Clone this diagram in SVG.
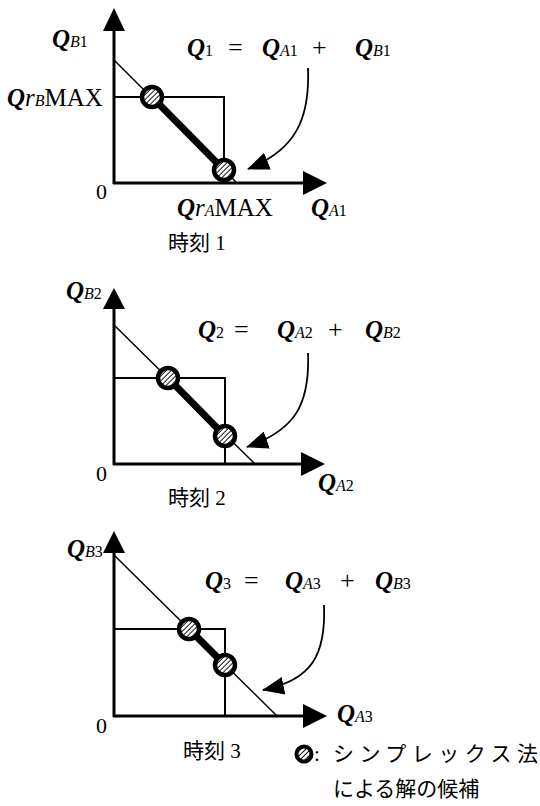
<svg xmlns="http://www.w3.org/2000/svg" width="540" height="806" viewBox="0 0 540 806">
<style>
.axis{stroke:#000;stroke-width:3;fill:none}
.rect{stroke:#000;stroke-width:2;fill:none}
.diag{stroke:#000;stroke-width:1.5;fill:none}
.thick{stroke:#000;stroke-width:7;fill:none}
.curve{stroke:#000;stroke-width:1.8;fill:none}
.head{fill:#000}
.q{font-family:"Liberation Serif",serif;font-style:italic;font-weight:bold;font-size:25px;fill:#000}
.sub{font-size:16px;font-weight:normal}
.r{font-weight:normal}
.n{font-style:normal}
.mx{font-style:normal;font-weight:normal;font-size:25px}
.up{font-family:"Liberation Serif",serif;font-style:normal;font-size:22px;fill:#000}
.op{font-family:"Liberation Serif",serif;font-size:26px;fill:#000}
.jp{font-family:"Liberation Serif","Noto Sans CJK JP",serif;font-size:21px;fill:#000}
</style>
<defs>
<pattern id="hatch" patternUnits="userSpaceOnUse" width="3.5" height="3.5" patternTransform="rotate(45)">
<rect width="3.5" height="3.5" fill="#fff"/>
<line x1="0" y1="0" x2="0" y2="3.5" stroke="#000" stroke-width="1.8"/>
</pattern>
<g id="node"><circle r="10" fill="url(#hatch)" stroke="#000" stroke-width="4.5"/></g>
<marker id="arr" markerUnits="userSpaceOnUse" markerWidth="22" markerHeight="18" refX="21" refY="9" orient="auto" viewBox="0 0 22 18">
<path d="M0,0 L22,9 L0,18 z" fill="#000"/>
</marker>
</defs>

<g id="panel1">
<line class="diag" x1="114" y1="60" x2="237" y2="183"/>
<polyline class="rect" points="114,97 224,97 224,183"/>
<line class="thick" x1="152" y1="97" x2="224" y2="170"/>
<line class="axis" x1="114" y1="184" x2="114" y2="28"/>
<polygon class="head" points="103,31 125,31 114,8"/>
<line class="axis" x1="113" y1="183" x2="306" y2="183"/>
<polygon class="head" points="303,171 303,195 327,183"/>
<use href="#node" x="152" y="97"/>
<use href="#node" x="224" y="170"/>
<path class="curve" d="M308,68 C310,120 295,150 248,169" marker-end="url(#arr)"/>
<text class="q" x="52" y="47">Q<tspan class="sub">B</tspan><tspan class="sub n">1</tspan></text>
<text class="q" x="7" y="106">Q<tspan class="r">r</tspan><tspan class="sub">B</tspan><tspan class="mx">MAX</tspan></text>
<text class="up" x="96" y="199">0</text>
<text class="q" x="177" y="216">Q<tspan class="r">r</tspan><tspan class="sub">A</tspan><tspan class="mx">MAX</tspan></text>
<text class="q" x="311" y="216">Q<tspan class="sub">A</tspan><tspan class="sub n">1</tspan></text>
<text class="q" x="187" y="56">Q<tspan class="sub n">1</tspan></text>
<text class="op" x="228" y="56">=</text>
<text class="q" x="262" y="56">Q<tspan class="sub">A</tspan><tspan class="sub n">1</tspan></text>
<text class="op" x="312" y="56">+</text>
<text class="q" x="355" y="56">Q<tspan class="sub">B</tspan><tspan class="sub n">1</tspan></text>
<text class="jp" x="168" y="250">時刻 1</text>
</g>

<g id="panel2">
<line class="diag" x1="114" y1="325" x2="255" y2="464"/>
<polyline class="rect" points="114,378 225,378 225,464"/>
<line class="thick" x1="168" y1="378" x2="225" y2="436"/>
<line class="axis" x1="114" y1="465" x2="114" y2="306"/>
<polygon class="head" points="103,309 125,309 114,288"/>
<line class="axis" x1="113" y1="464" x2="304" y2="464"/>
<polygon class="head" points="301,452 301,476 325,464"/>
<use href="#node" x="168" y="378"/>
<use href="#node" x="225" y="436"/>
<path class="curve" d="M308,353 C310,405 295,430 247,447" marker-end="url(#arr)"/>
<text class="q" x="66" y="299">Q<tspan class="sub">B</tspan><tspan class="sub n">2</tspan></text>
<text class="up" x="96" y="481">0</text>
<text class="q" x="318" y="491">Q<tspan class="sub">A</tspan><tspan class="sub n">2</tspan></text>
<text class="q" x="198" y="338">Q<tspan class="sub n">2</tspan></text>
<text class="op" x="234" y="338">=</text>
<text class="q" x="277" y="338">Q<tspan class="sub">A</tspan><tspan class="sub n">2</tspan></text>
<text class="op" x="328" y="338">+</text>
<text class="q" x="365" y="338">Q<tspan class="sub">B</tspan><tspan class="sub n">2</tspan></text>
<text class="jp" x="168" y="505">時刻 2</text>
</g>

<g id="panel3">
<line class="diag" x1="114" y1="555" x2="277" y2="716"/>
<polyline class="rect" points="114,629 225,629 225,716"/>
<line class="thick" x1="189" y1="629" x2="225" y2="665"/>
<line class="axis" x1="114" y1="717" x2="114" y2="550"/>
<polygon class="head" points="103,553 125,553 114,531"/>
<line class="axis" x1="113" y1="716" x2="306" y2="716"/>
<polygon class="head" points="303,704 303,728 327,716"/>
<use href="#node" x="189" y="629"/>
<use href="#node" x="225" y="665"/>
<path class="curve" d="M324,605 C326,655 312,680 263,690" marker-end="url(#arr)"/>
<text class="q" x="67" y="557">Q<tspan class="sub">B</tspan><tspan class="sub n">3</tspan></text>
<text class="up" x="96" y="733">0</text>
<text class="q" x="337" y="722">Q<tspan class="sub">A</tspan><tspan class="sub n">3</tspan></text>
<text class="q" x="205" y="589">Q<tspan class="sub n">3</tspan></text>
<text class="op" x="244" y="589">=</text>
<text class="q" x="285" y="589">Q<tspan class="sub">A</tspan><tspan class="sub n">3</tspan></text>
<text class="op" x="340" y="589">+</text>
<text class="q" x="375" y="589">Q<tspan class="sub">B</tspan><tspan class="sub n">3</tspan></text>
<text class="jp" x="183" y="758">時刻 3</text>
</g>

<g id="legend">
<circle cx="304" cy="754" r="7.5" fill="url(#hatch)" stroke="#000" stroke-width="4"/>
<text class="jp" x="314" y="761">:</text>
<text class="jp" x="333" y="761" textLength="205" lengthAdjust="spacing">シンプレックス法</text>
<text class="jp" x="333" y="796">による解の候補</text>
</g>
</svg>
